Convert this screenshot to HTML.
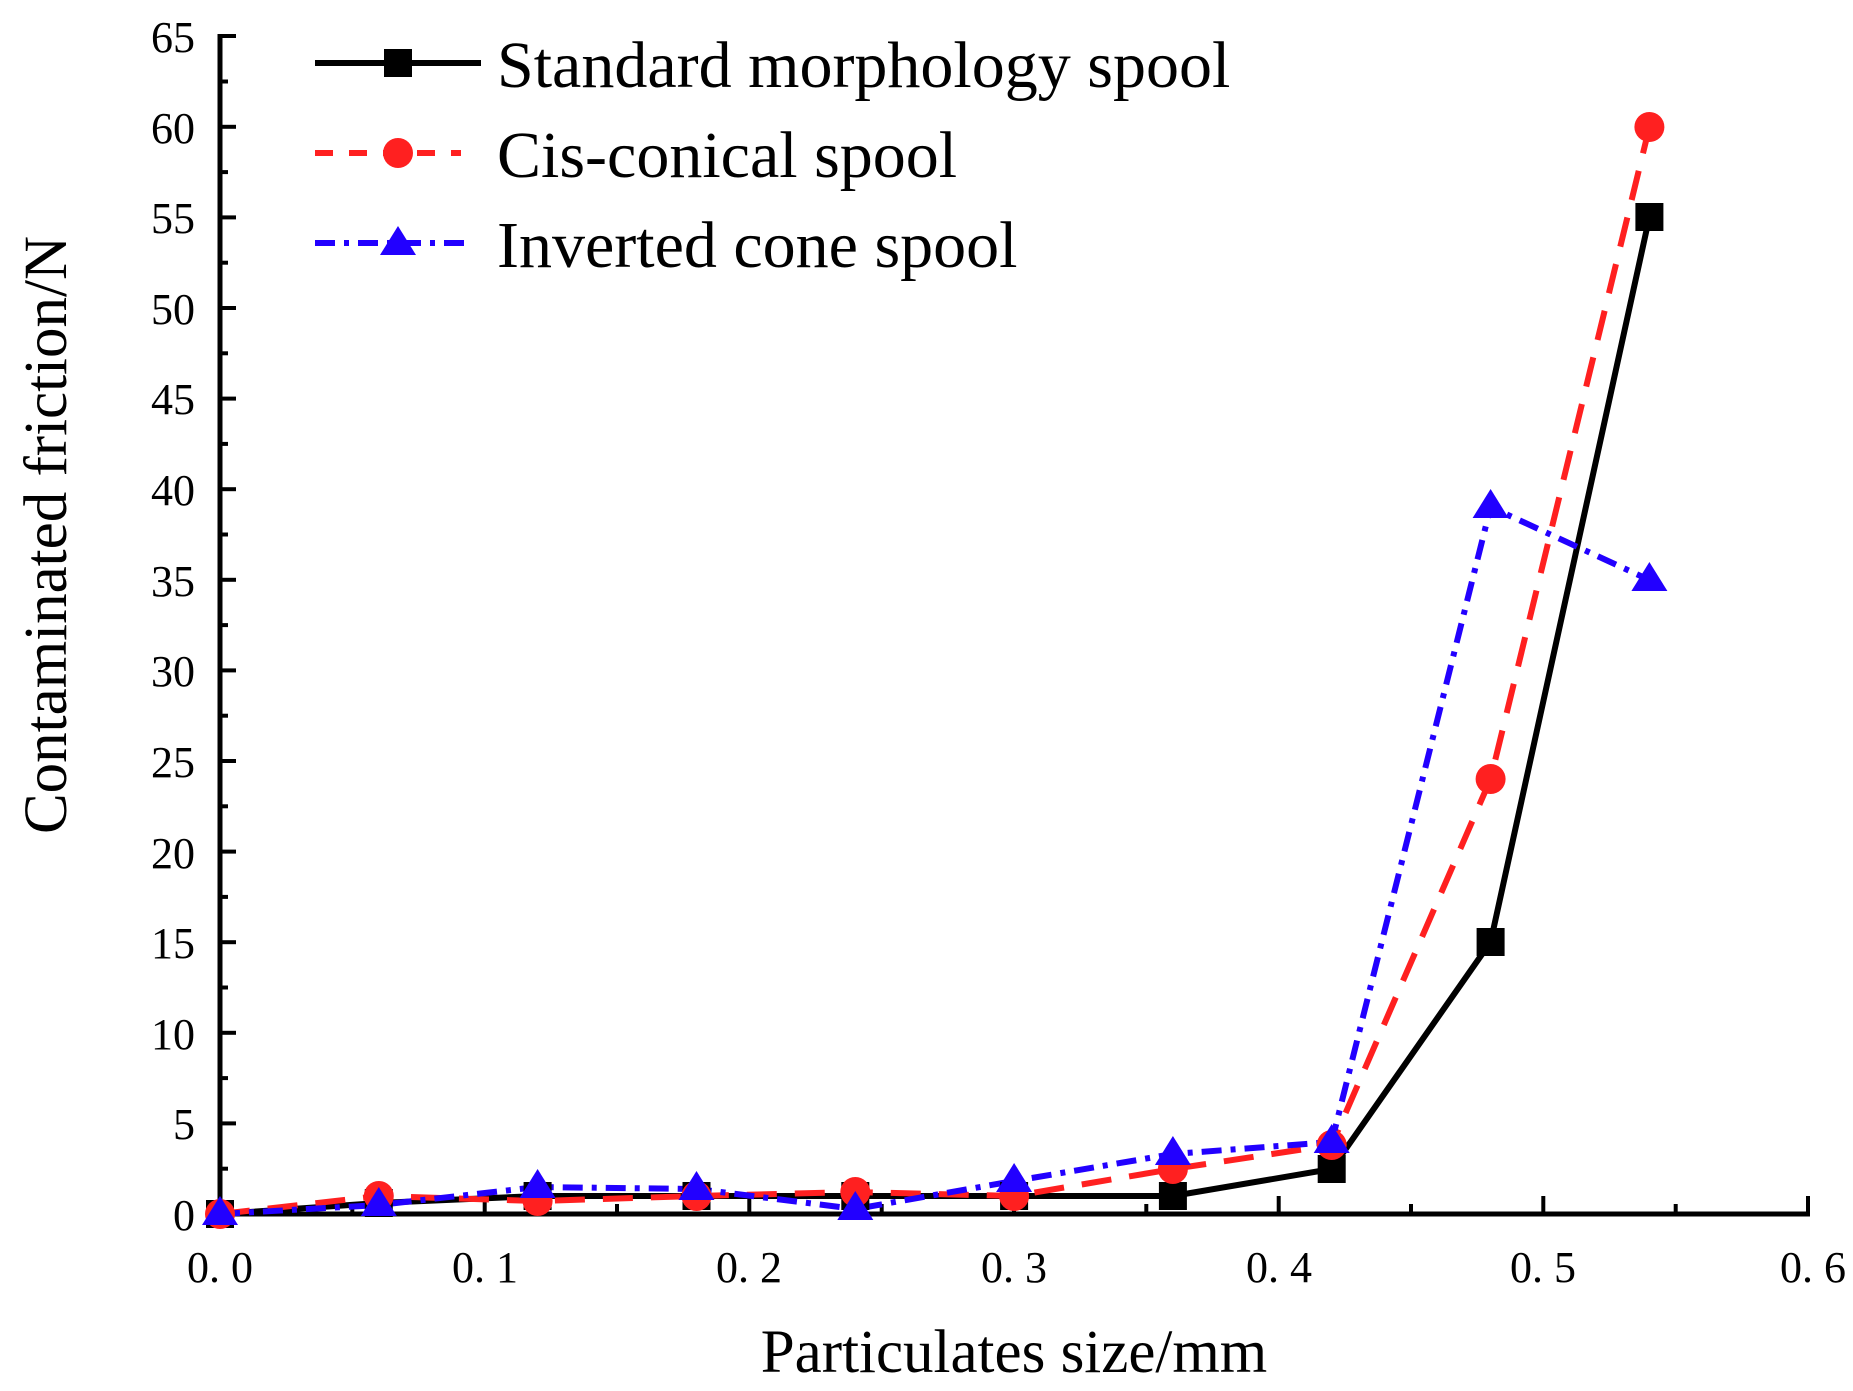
<!DOCTYPE html>
<html><head><style>body{margin:0;background:#fff}svg{display:block}</style></head>
<body>
<svg width="1853" height="1391" viewBox="0 0 1853 1391" xmlns="http://www.w3.org/2000/svg" font-family="Liberation Serif, serif">
<rect width="1853" height="1391" fill="#fff"/>
<g stroke="#000" stroke-width="5" fill="none">
<line x1="220" y1="34" x2="220" y2="1216"/>
<line x1="218" y1="1214" x2="1810" y2="1214"/>
</g>
<g stroke="#000" stroke-width="4">
<line x1="220" y1="1214" x2="236" y2="1214"/><line x1="220" y1="1123.4" x2="236" y2="1123.4"/><line x1="220" y1="1032.8" x2="236" y2="1032.8"/><line x1="220" y1="942.2" x2="236" y2="942.2"/><line x1="220" y1="851.6" x2="236" y2="851.6"/><line x1="220" y1="761" x2="236" y2="761"/><line x1="220" y1="670.4" x2="236" y2="670.4"/><line x1="220" y1="579.8" x2="236" y2="579.8"/><line x1="220" y1="489.2" x2="236" y2="489.2"/><line x1="220" y1="398.6" x2="236" y2="398.6"/><line x1="220" y1="308" x2="236" y2="308"/><line x1="220" y1="217.4" x2="236" y2="217.4"/><line x1="220" y1="126.8" x2="236" y2="126.8"/><line x1="220" y1="36" x2="236" y2="36"/>
<line x1="220" y1="1168.7" x2="228" y2="1168.7"/><line x1="220" y1="1078.1" x2="228" y2="1078.1"/><line x1="220" y1="987.5" x2="228" y2="987.5"/><line x1="220" y1="896.9" x2="228" y2="896.9"/><line x1="220" y1="806.3" x2="228" y2="806.3"/><line x1="220" y1="715.7" x2="228" y2="715.7"/><line x1="220" y1="625.1" x2="228" y2="625.1"/><line x1="220" y1="534.5" x2="228" y2="534.5"/><line x1="220" y1="443.9" x2="228" y2="443.9"/><line x1="220" y1="353.3" x2="228" y2="353.3"/><line x1="220" y1="262.7" x2="228" y2="262.7"/><line x1="220" y1="172.1" x2="228" y2="172.1"/><line x1="220" y1="81.5" x2="228" y2="81.5"/>
<line x1="484.7" y1="1214" x2="484.7" y2="1196"/><line x1="749.3" y1="1214" x2="749.3" y2="1196"/><line x1="1014" y1="1214" x2="1014" y2="1196"/><line x1="1278.7" y1="1214" x2="1278.7" y2="1196"/><line x1="1543.3" y1="1214" x2="1543.3" y2="1196"/><line x1="1808" y1="1214" x2="1808" y2="1196"/>
<line x1="352.3" y1="1214" x2="352.3" y2="1204"/><line x1="617" y1="1214" x2="617" y2="1204"/><line x1="881.7" y1="1214" x2="881.7" y2="1204"/><line x1="1146.3" y1="1214" x2="1146.3" y2="1204"/><line x1="1411" y1="1214" x2="1411" y2="1204"/><line x1="1675.7" y1="1214" x2="1675.7" y2="1204"/>
</g>
<g font-size="44" text-anchor="end" fill="#000">
<text x="195" y="1230">0</text><text x="195" y="1139">5</text><text x="195" y="1049">10</text><text x="195" y="958">15</text><text x="195" y="868">20</text><text x="195" y="777">25</text><text x="195" y="686">30</text><text x="195" y="596">35</text><text x="195" y="505">40</text><text x="195" y="414">45</text><text x="195" y="324">50</text><text x="195" y="233">55</text><text x="195" y="143">60</text><text x="195" y="52">65</text>
</g>
<g font-size="44" text-anchor="middle" fill="#000">
<text x="220" y="1282">0. 0</text><text x="485" y="1282">0. 1</text><text x="749" y="1282">0. 2</text><text x="1014" y="1282">0. 3</text><text x="1279" y="1282">0. 4</text><text x="1543" y="1282">0. 5</text><text x="1846" y="1282" text-anchor="end">0. 6</text>
</g>
<text x="1014" y="1372" font-size="61" text-anchor="middle">Particulates size/mm</text>
<text transform="translate(66,535) rotate(-90)" font-size="61" text-anchor="middle">Contaminated friction/N</text>
<polyline fill="none" stroke="#000" stroke-width="6" points="220,1214 378.8,1203 537.6,1196 696.5,1196 855.3,1196 1014.1,1196 1172.9,1196 1331.7,1169 1490.6,942 1649.4,217"/>
<polyline fill="none" stroke="#ff2020" stroke-width="6" stroke-dasharray="30,18" points="220,1214 378.8,1196 537.6,1201 696.5,1196 855.3,1192 1014.1,1196 1172.9,1169 1331.7,1145 1490.6,779 1649.4,127"/>
<polyline fill="none" stroke="#2200ff" stroke-width="6" stroke-dasharray="20,9,5,9" points="220,1214 378.8,1205 537.6,1187 696.5,1189 855.3,1209 1014.1,1181 1172.9,1154 1331.7,1142 1490.6,507 1649.4,580"/>
<g fill="#000">
<rect x="206" y="1200" width="28" height="28"/><rect x="364.8" y="1189" width="28" height="28"/><rect x="523.6" y="1182" width="28" height="28"/><rect x="682.5" y="1182" width="28" height="28"/><rect x="841.3" y="1182" width="28" height="28"/><rect x="1000.1" y="1182" width="28" height="28"/><rect x="1158.9" y="1182" width="28" height="28"/><rect x="1317.7" y="1155" width="28" height="28"/><rect x="1476.6" y="928" width="28" height="28"/><rect x="1635.4" y="203" width="28" height="28"/>
</g>
<g fill="#ff2020">
<circle cx="220" cy="1214" r="15"/><circle cx="378.8" cy="1196" r="15"/><circle cx="537.6" cy="1201" r="15"/><circle cx="696.5" cy="1196" r="15"/><circle cx="855.3" cy="1192" r="15"/><circle cx="1014.1" cy="1196" r="15"/><circle cx="1172.9" cy="1169" r="15"/><circle cx="1331.7" cy="1145" r="15"/><circle cx="1490.6" cy="779" r="15"/><circle cx="1649.4" cy="127" r="15"/>
</g>
<g fill="#2200ff">
<polygon points="220,1196 238,1225 202,1225"/><polygon points="378.8,1187 396.8,1216 360.8,1216"/><polygon points="537.6,1169 555.6,1198 519.6,1198"/><polygon points="696.5,1171 714.5,1200 678.5,1200"/><polygon points="855.3,1191 873.3,1220 837.3,1220"/><polygon points="1014.1,1163 1032.1,1192 996.1,1192"/><polygon points="1172.9,1136 1190.9,1165 1154.9,1165"/><polygon points="1331.7,1124 1349.7,1153 1313.7,1153"/><polygon points="1490.6,489 1508.6,518 1472.6,518"/><polygon points="1649.4,562 1667.4,591 1631.4,591"/>
</g>
<line x1="315" y1="63" x2="481" y2="63" stroke="#000" stroke-width="6"/>
<rect x="384" y="49" width="28" height="28" fill="#000"/>
<line x1="315" y1="153" x2="461" y2="153" stroke="#ff2020" stroke-width="6" stroke-dasharray="18,16"/>
<circle cx="398" cy="153" r="15" fill="#ff2020"/>
<line x1="315" y1="243" x2="471" y2="243" stroke="#2200ff" stroke-width="6" stroke-dasharray="20,9,5,9"/>
<polygon points="398,226 416,255 380,255" fill="#2200ff"/>
<g font-size="66" fill="#000">
<text x="497" y="87">Standard morphology spool</text>
<text x="497" y="177">Cis-conical spool</text>
<text x="497" y="267">Inverted cone spool</text>
</g>
</svg>
</body></html>
